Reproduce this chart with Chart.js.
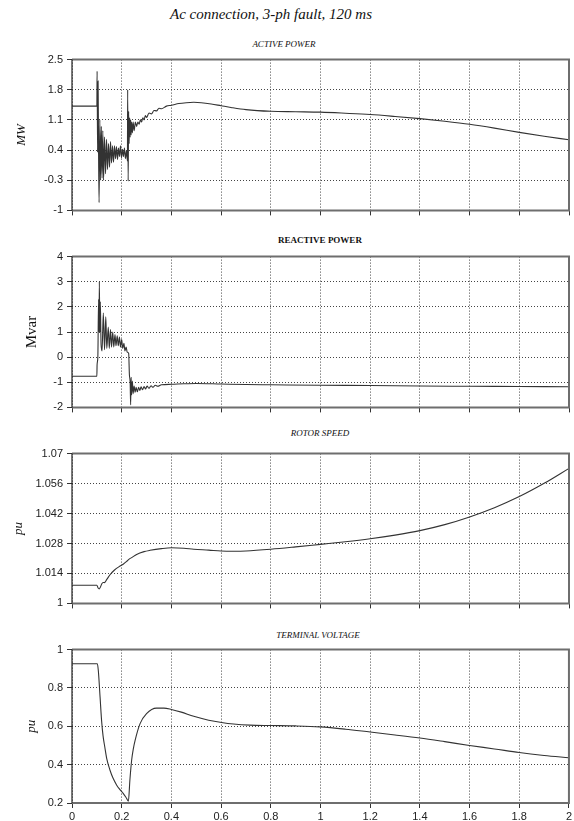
<!DOCTYPE html>
<html>
<head>
<meta charset="utf-8">
<script src="https://cdn.jsdelivr.net/npm/chart.js@4/dist/chart.umd.min.js"></script>
<style>
body { margin: 0; background: #fff; width: 574px; height: 821px; position: relative; overflow: hidden; }
.t { position: absolute; font-family: "Liberation Serif", "DejaVu Serif", serif; color: #111; white-space: nowrap; transform: translateX(-50%); }
canvas { position: absolute; left: 0; }
</style>
</head>
<body>
<div class="t" style="left:271px;top:6px;font-size:15px;font-style:italic">Ac connection, 3-ph fault, 120 ms</div>
<div class="t" style="left:284px;top:39px;font-size:9px;font-style:italic">ACTIVE POWER</div>
<div class="t" style="left:320px;top:235px;font-size:9px;font-weight:bold">REACTIVE POWER</div>
<div class="t" style="left:320px;top:428px;font-size:9px;font-style:italic">ROTOR SPEED</div>
<div class="t" style="left:318px;top:630px;font-size:9px;font-style:italic">TERMINAL VOLTAGE</div>

<canvas id="c1" width="574" height="172" style="top:49px"></canvas>
<canvas id="c2" width="574" height="172" style="top:246px"></canvas>
<canvas id="c3" width="574" height="171" style="top:443px"></canvas>
<canvas id="c4" width="574" height="182" style="top:639px"></canvas>

<script>
// time axis (s)
var xTicks = [0, 0.2, 0.4, 0.6, 0.8, 1, 1.2, 1.4, 1.6, 1.8, 2];

// active power (MW)
var pTicks = [-1, -0.3, 0.4, 1.1, 1.8, 2.5];
var pX = [0, 0.1, 0.101, 0.103, 0.105, 0.107, 0.109, 0.112, 0.115, 0.118, 0.121, 0.124, 0.127, 0.131, 0.135,
  0.139, 0.143, 0.147, 0.151, 0.155, 0.159, 0.163, 0.167, 0.171, 0.175, 0.179, 0.183, 0.187, 0.191, 0.195,
  0.199, 0.203, 0.207, 0.211, 0.215, 0.219, 0.223, 0.224, 0.226, 0.228, 0.230, 0.232, 0.234, 0.236, 0.238,
  0.240, 0.243, 0.246, 0.25, 0.255, 0.26, 0.265, 0.27, 0.275, 0.28, 0.285, 0.29, 0.295, 0.30, 0.31, 0.32,
  0.33, 0.34, 0.35, 0.36, 0.38, 0.40, 0.43, 0.46, 0.49, 0.52, 0.56, 0.60, 0.64, 0.70, 0.80, 0.90, 1.00,
  1.10, 1.20, 1.30, 1.40, 1.50, 1.60, 1.70, 1.80, 1.90, 2.00];
var pY = [1.42, 1.42, 2.23, 0.35, 2.0, 0.3, -0.82, 1.1, -0.3, 0.95, -0.25, 0.85, -0.3, 0.7, -0.15,
  0.65, -0.05, 0.55, 0.0, 0.6, 0.1, 0.5, 0.12, 0.5, 0.2, 0.48, 0.18, 0.45, 0.25, 0.5,
  0.22, 0.42, 0.25, 0.45, 0.2, 0.38, 0.15, 1.8, -0.32, 1.3, 0.55, 1.15, 0.7, 1.1, 0.75,
  1.05, 0.8, 1.05, 0.85, 1.05, 0.95, 1.05, 1.0, 1.1, 1.05, 1.15, 1.1, 1.2, 1.16, 1.26, 1.24,
  1.32, 1.31, 1.37, 1.36, 1.42, 1.44, 1.48, 1.5, 1.51, 1.5, 1.47, 1.43, 1.39, 1.34, 1.30, 1.29, 1.28,
  1.255, 1.225, 1.18, 1.13, 1.07, 1.00, 0.91, 0.81, 0.72, 0.64];

// reactive power (Mvar)
var qTicks = [-2, -1, 0, 1, 2, 3, 4];
var qX = [0, 0.1, 0.101, 0.104, 0.107, 0.109, 0.110, 0.112, 0.114, 0.117, 0.121, 0.126, 0.131, 0.136, 0.140,
  0.146, 0.150, 0.155, 0.159, 0.164, 0.168, 0.173, 0.177, 0.182, 0.186, 0.191, 0.195, 0.200, 0.204, 0.209,
  0.213, 0.218, 0.222, 0.228, 0.231, 0.234, 0.236, 0.238, 0.240, 0.243, 0.246, 0.250, 0.254, 0.258, 0.263,
  0.268, 0.273, 0.278, 0.284, 0.290, 0.296, 0.302, 0.310, 0.318, 0.326, 0.335, 0.345, 0.36, 0.40, 0.45,
  0.50, 0.60, 0.70, 0.80, 1.0, 1.2, 1.4, 1.6, 1.8, 2.0];
var qY = [-0.76, -0.76, -0.3, 0.0, 2.3, 1.0, 3.0, 1.0, 2.2, 0.5, 0.25, 1.75, 0.3, 1.6, 0.35,
  1.2, 0.35, 1.1, 0.4, 1.0, 0.4, 0.9, 0.45, 0.85, 0.45, 0.8, 0.4, 0.7, 0.35, 0.55,
  0.25, 0.4, 0.2, 0.15, -0.7, -1.0, -1.9, -0.8, -1.5, -0.95, -1.45, -1.15, -1.4, -1.2, -1.38,
  -1.2, -1.33, -1.18, -1.3, -1.17, -1.27, -1.15, -1.24, -1.14, -1.2, -1.12, -1.16, -1.1, -1.08, -1.06,
  -1.05, -1.07, -1.09, -1.1, -1.12, -1.13, -1.15, -1.16, -1.17, -1.18];

// rotor speed (pu)
var wTicks = [1, 1.014, 1.028, 1.042, 1.056, 1.07];
var wX = [0, 0.1, 0.105, 0.11, 0.115, 0.12, 0.125, 0.13, 0.14, 0.153, 0.17, 0.19, 0.206, 0.22, 0.23, 0.24,
  0.26, 0.29, 0.314, 0.36, 0.40, 0.45, 0.49, 0.55, 0.60, 0.65, 0.70, 0.80, 0.90, 1.00, 1.10, 1.20, 1.30,
  1.40, 1.50, 1.60, 1.70, 1.80, 1.90, 2.00];
var wY = [1.0085, 1.0085, 1.0072, 1.0068, 1.0078, 1.0092, 1.0098, 1.0097, 1.0112, 1.0134, 1.0155, 1.0172,
  1.0183, 1.0196, 1.0207, 1.0214, 1.0229, 1.0242, 1.0248, 1.0256, 1.026, 1.0258, 1.0253, 1.0249, 1.0245,
  1.0244, 1.0245, 1.0253, 1.0264, 1.0276, 1.0288, 1.0302, 1.0319, 1.034, 1.0368, 1.0404, 1.0447, 1.0499,
  1.0561, 1.0631];

// terminal voltage (pu)
var vTicks = [0.2, 0.4, 0.6, 0.8, 1];
var vX = [0, 0.1, 0.102, 0.106, 0.113, 0.119, 0.125, 0.132, 0.14, 0.153, 0.165, 0.18, 0.193, 0.206, 0.217,
  0.227, 0.233, 0.24, 0.247, 0.254, 0.274, 0.30, 0.34, 0.37, 0.40, 0.44, 0.49, 0.55, 0.602, 0.65,
  0.716, 0.80, 0.90, 0.998, 1.10, 1.20, 1.30, 1.40, 1.50, 1.60, 1.70, 1.80, 1.90, 2.00];
var vY = [0.926, 0.926, 0.926, 0.89, 0.752, 0.631, 0.55, 0.492, 0.43, 0.371, 0.33, 0.293, 0.27, 0.25, 0.23,
  0.21, 0.32, 0.423, 0.484, 0.527, 0.614, 0.666, 0.695, 0.695, 0.688, 0.674, 0.652, 0.632, 0.62, 0.612,
  0.606, 0.604, 0.602, 0.597, 0.585, 0.57, 0.555, 0.539, 0.52, 0.50, 0.482, 0.463, 0.448, 0.436];

var frame = {
  id: 'frame',
  afterDatasetsDraw: function(chart) {
    var a = chart.chartArea, ctx = chart.ctx;
    ctx.save();
    ctx.strokeStyle = '#6e6e6e';
    ctx.lineWidth = 2;
    ctx.beginPath();
    ctx.moveTo(a.left, a.top);
    ctx.lineTo(a.right, a.top);
    ctx.lineTo(a.right, a.bottom);
    ctx.lineTo(a.left, a.bottom);
    ctx.stroke();
    ctx.strokeStyle = '#222';
    ctx.lineWidth = 1.2;
    ctx.beginPath();
    ctx.moveTo(a.left, a.top);
    ctx.lineTo(a.left, a.bottom);
    ctx.stroke();
    ctx.restore();
  }
};

function pontos(xs, ys) {
  var out = [];
  for (var i = 0; i < xs.length; i++) out.push({x: xs[i], y: ys[i]});
  return out;
}

function grafico(id, xs, ys, yTicks, titulo, fonteTitulo, padTitulo, mostraX, baixo) {
  var ctx = document.getElementById(id).getContext('2d');
  return new Chart(ctx, {
    type: 'line',
    data: {
      datasets: [{
        data: pontos(xs, ys),
        borderColor: '#333',
        borderWidth: 1.1,
        pointRadius: 0,
        cubicInterpolationMode: 'monotone',
        fill: false
      }]
    },
    plugins: [frame],
    options: {
      responsive: false,
      animation: false,
      layout: { padding: { top: 10, right: 5, left: 0, bottom: 0 } },
      plugins: { legend: { display: false }, tooltip: { enabled: false } },
      scales: {
        x: {
          type: 'linear',
          min: 0, max: 2,
          afterBuildTicks: function(s) { s.ticks = xTicks.map(function(v) { return {value: v}; }); },
          afterFit: function(s) { s.height = baixo; },
          border: { display: false, dash: [1, 2] },
          grid: { color: '#444', lineWidth: 1, tickLength: 5, tickColor: '#333', tickBorderDash: [] },
          ticks: {
            display: mostraX,
            padding: 2,
            color: '#222',
            font: { family: 'Liberation Sans, Arial, sans-serif', size: 11 },
            maxRotation: 0,
            callback: function(v) { return String(+v.toFixed(1)); }
          }
        },
        y: {
          min: yTicks[0], max: yTicks[yTicks.length - 1],
          afterBuildTicks: function(s) { s.ticks = yTicks.map(function(v) { return {value: v}; }); },
          afterFit: function(s) { s.width = 72; },
          border: { display: false, dash: [1, 2] },
          grid: { color: '#444', lineWidth: 1, tickLength: 5, tickColor: '#333', tickBorderDash: [] },
          ticks: {
            padding: 4,
            color: '#222',
            font: { family: 'Liberation Sans, Arial, sans-serif', size: 11 },
            callback: function(v) { return String(+v.toFixed(3)); }
          },
          title: {
            display: true,
            text: titulo,
            color: '#111',
            font: fonteTitulo,
            padding: { top: padTitulo, bottom: 0 }
          }
        }
      }
    }
  });
}

var serifa = 'Liberation Serif, Times New Roman, serif';
grafico('c1', pX, pY, pTicks, 'MW', { family: serifa, size: 13, style: 'italic' }, 14, false, 8);
grafico('c2', qX, qY, qTicks, 'Mvar', { family: serifa, size: 15 }, 23, false, 8);
grafico('c3', wX, wY, wTicks, 'pu', { family: serifa, size: 13, style: 'italic' }, 11, false, 8);
grafico('c4', vX, vY, vTicks, 'pu', { family: serifa, size: 13, style: 'italic' }, 24, true, 18);
</script>
</body>
</html>
